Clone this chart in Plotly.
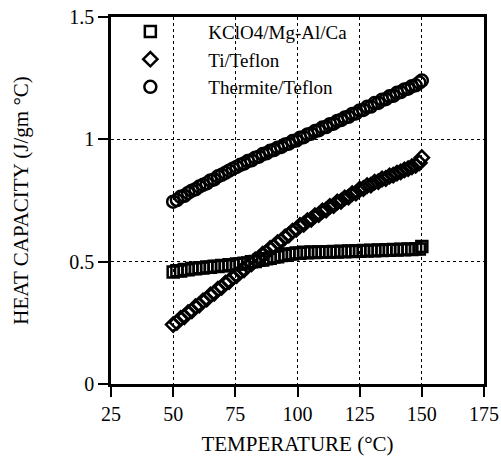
import plotly.graph_objects as go

# Temperature (°C) at which heat capacity was sampled
temperature = [50, 51.5, 53, 54.5, 56, 57.5, 59, 60.5, 62, 63.5,
               65, 66.5, 68, 69.5, 71, 72.5, 74, 75.5, 77, 78.5,
               80, 81.5, 83, 84.5, 86, 87.5, 89, 90.5, 92, 93.5,
               95, 96.5, 98, 99.5, 101, 102.5, 104, 105.5, 107, 108.5,
               110, 111.5, 113, 114.5, 116, 117.5, 119, 120.5, 122, 123.5,
               125, 126.5, 128, 129.5, 131, 132.5, 134, 135.5, 137, 138.5,
               140, 141.5, 143, 144.5, 146, 147.5, 149, 150]

# Heat capacity (J/gm °C) for each composition
kclo4_mg_al_ca = [0.458, 0.463, 0.462, 0.468, 0.467, 0.472, 0.471, 0.475, 0.474, 0.478,
                  0.477, 0.481, 0.480, 0.484, 0.483, 0.487, 0.486, 0.490, 0.490, 0.494,
                  0.495, 0.500, 0.501, 0.506, 0.507, 0.512, 0.514, 0.519, 0.520, 0.525,
                  0.526, 0.531, 0.531, 0.535, 0.534, 0.538, 0.536, 0.539, 0.537, 0.540,
                  0.538, 0.541, 0.539, 0.542, 0.540, 0.543, 0.541, 0.544, 0.542, 0.545,
                  0.543, 0.546, 0.544, 0.547, 0.545, 0.548, 0.546, 0.549, 0.547, 0.550,
                  0.548, 0.551, 0.549, 0.552, 0.550, 0.553, 0.552, 0.562]

ti_teflon = [0.243, 0.252, 0.268, 0.275, 0.292, 0.299, 0.316, 0.323, 0.340, 0.347,
             0.364, 0.371, 0.388, 0.395, 0.412, 0.419, 0.436, 0.443, 0.459, 0.467,
             0.483, 0.491, 0.507, 0.514, 0.531, 0.538, 0.554, 0.562, 0.578, 0.585,
             0.601, 0.609, 0.625, 0.632, 0.648, 0.653, 0.668, 0.673, 0.688, 0.692,
             0.707, 0.711, 0.726, 0.729, 0.744, 0.747, 0.761, 0.764, 0.778, 0.780,
             0.796, 0.799, 0.811, 0.813, 0.825, 0.827, 0.838, 0.840, 0.850, 0.854,
             0.862, 0.867, 0.875, 0.880, 0.888, 0.894, 0.904, 0.925]

thermite_teflon = [0.745, 0.752, 0.765, 0.769, 0.781, 0.790, 0.796, 0.807, 0.814, 0.820,
                   0.832, 0.836, 0.849, 0.855, 0.863, 0.872, 0.880, 0.887, 0.896, 0.901,
                   0.911, 0.914, 0.925, 0.929, 0.940, 0.943, 0.953, 0.956, 0.966, 0.969,
                   0.979, 0.982, 0.993, 0.995, 1.006, 1.009, 1.020, 1.023, 1.034, 1.037,
                   1.048, 1.050, 1.062, 1.064, 1.075, 1.079, 1.089, 1.092, 1.104, 1.106,
                   1.118, 1.120, 1.133, 1.134, 1.148, 1.149, 1.162, 1.164, 1.176, 1.178,
                   1.190, 1.193, 1.204, 1.207, 1.217, 1.221, 1.232, 1.240]

series = [
    ("KClO4/Mg-Al/Ca", kclo4_mg_al_ca, "square-open", 11),
    ("Ti/Teflon", ti_teflon, "diamond-open", 11),
    ("Thermite/Teflon", thermite_teflon, "circle-open", 12),
]

x_ticks = [25, 50, 75, 100, 125, 150, 175]
y_ticks = [0, 0.5, 1, 1.5]
y_tick_labels = ["0", "0.5", "1", "1.5"]

serif = "Liberation Serif, Times New Roman, serif"

fig = go.Figure()
for name, values, symbol, size in series:
    fig.add_trace(go.Scatter(
        x=temperature, y=values, mode="markers", name=name,
        marker=dict(symbol=symbol, size=size, color="black",
                    line=dict(color="black", width=2.5)),
    ))

axis_common = dict(
    showline=True, linecolor="black", linewidth=2.5, mirror=True,
    ticks="outside", ticklen=10, tickwidth=2, tickcolor="black",
    showgrid=True, gridcolor="black", gridwidth=1, griddash="dot",
    zeroline=False, automargin=False,
    tickfont=dict(family=serif, size=20, color="black"),
)

fig.update_xaxes(
    range=[25, 175], tickvals=x_ticks,
    title=dict(text="TEMPERATURE (°C)", font=dict(family=serif, size=21, color="black"),
               standoff=20),
    **axis_common,
)
fig.update_yaxes(
    range=[0, 1.5], tickvals=y_ticks, ticktext=y_tick_labels,
    title=dict(text="HEAT CAPACITY (J/gm °C)", font=dict(family=serif, size=21, color="black"),
               standoff=35),
    **axis_common,
)

fig.update_layout(
    width=501, height=456,
    margin=dict(l=111, r=17, t=17, b=72),
    paper_bgcolor="white", plot_bgcolor="white",
    showlegend=True,
    legend=dict(
        x=-0.05, y=1.012, xanchor="left", yanchor="top",
        bgcolor="rgba(0,0,0,0)", borderwidth=0,
        font=dict(family=serif, size=19, color="black"),
        itemwidth=106, tracegroupgap=0,
    ),
)

fig.write_html("out.html")
